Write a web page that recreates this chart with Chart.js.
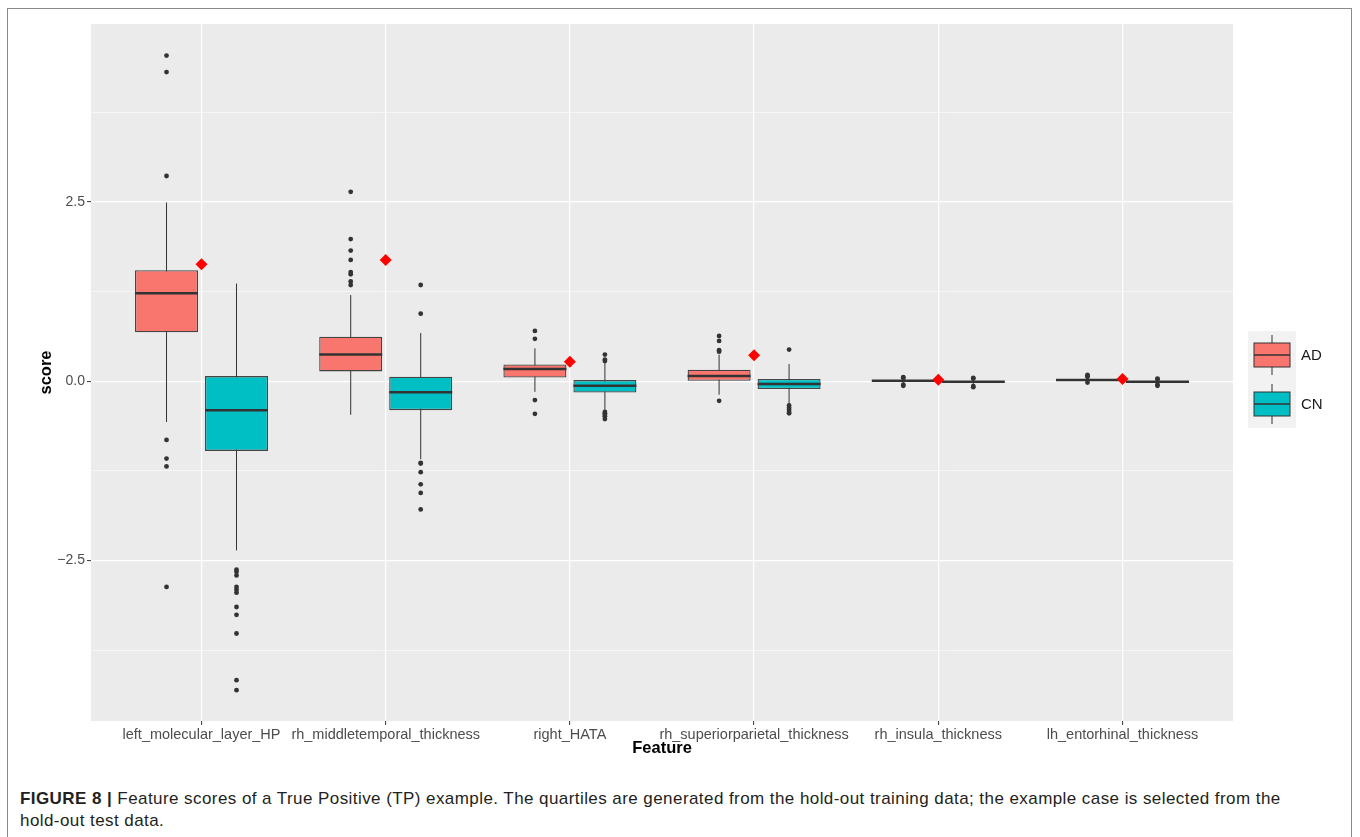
<!DOCTYPE html>
<html>
<head>
<meta charset="utf-8">
<script src="https://cdn.jsdelivr.net/npm/chart.js@4.4.1/dist/chart.umd.min.js"></script>
<style>
  body { margin: 0; background: #fff; font-family: "Liberation Sans", Arial, sans-serif; }
  #frame { position: absolute; left: 7px; top: 8px; width: 1343px; height: 850px; border: 1.5px solid #8a8a8a; }
  #wrap { position: absolute; left: 0; top: 0; width: 1360px; height: 770px; }
  #caption { position: absolute; left: 20px; top: 788px; font-size: 17px; letter-spacing: 0.43px; line-height: 22px; color: #231f20; }
  #caption b { font-weight: bold; }
</style>
</head>
<body>
<div id="frame"></div>
<div id="wrap"><canvas id="boxChart"></canvas></div>
<div id="caption"><b>FIGURE 8 |</b> Feature scores of a True Positive (TP) example. The quartiles are generated from the hold-out training data; the example case is selected from the<br>hold-out test data.</div>
<script>
// ---- data ----
const features = ['left_molecular_layer_HP', 'rh_middletemporal_thickness', 'right_HATA',
    'rh_superiorparietal_thickness', 'rh_insula_thickness', 'lh_entorhinal_thickness'];

const adLow    = [-0.57, -0.47, -0.15, -0.19, -0.025, -0.01];
const adQ1     = [0.68, 0.135, 0.05, 0.005, -0.005, 0.005];
const adMedian = [1.225, 0.37, 0.168, 0.07, 0.005, 0.014];
const adQ3     = [1.546, 0.62, 0.233, 0.158, 0.012, 0.022];
const adHigh   = [2.49, 1.20, 0.457, 0.37, 0.035, 0.04];
const adOutliers = [
    [4.54, 4.31, 2.86, -0.82, -1.08, -1.19, -2.87],
    [2.64, 1.98, 1.82, 1.69, 1.52, 1.49, 1.39, 1.34],
    [0.70, 0.59, -0.265, -0.456],
    [0.63, 0.56, 0.43, 0.41, -0.275],
    [0.055, 0.045, -0.05, -0.065],
    [0.085, 0.07, 0.06, -0.02]
];

const cnLow    = [-2.36, -1.09, -0.40, -0.31, -0.045, -0.04];
const cnQ1     = [-0.973, -0.405, -0.16, -0.11, -0.02, -0.018];
const cnMedian = [-0.405, -0.154, -0.065, -0.04, -0.01, -0.01];
const cnQ3     = [0.07, 0.06, 0.014, 0.03, 0.0, -0.002];
const cnHigh   = [1.36, 0.67, 0.25, 0.237, 0.025, 0.02];
const cnOutliers = [
    [-2.63, -2.66, -2.71, -2.87, -2.91, -2.95, -3.15, -3.26, -3.52, -4.17, -4.31],
    [1.34, 0.94, -1.14, -1.15, -1.27, -1.44, -1.56, -1.79],
    [0.37, 0.30, 0.28, -0.43, -0.45, -0.47, -0.49, -0.53],
    [0.44, -0.34, -0.37, -0.40, -0.43, -0.45],
    [0.045, 0.035, -0.07, -0.085],
    [0.035, 0.025, -0.05, -0.065]
];

const exampleScores = [1.63, 1.69, 0.27, 0.36, 0.02, 0.03];

const yTicks = [-3.75, -2.5, -1.25, 0, 1.25, 2.5, 3.75];
const yMajor = [-2.5, 0, 2.5];

const AD_COLOR = '#F8766D';
const CN_COLOR = '#00BFC4';
const DODGE = 0.19;

const boxes = [
    { label: 'AD', low: adLow, q1: adQ1, med: adMedian, q3: adQ3, high: adHigh, color: AD_COLOR },
    { label: 'CN', low: cnLow, q1: cnQ1, med: cnMedian, q3: cnQ3, high: cnHigh, color: CN_COLOR }
];

function outlierPoints(list, shift) {
    const pts = [];
    list.forEach((vals, i) => vals.forEach(v => pts.push({ x: i + 1 + shift, y: v })));
    return pts;
}

// ---- plugins ----
const panelBg = {
    id: 'panelBg',
    beforeDraw(chart) {
        const { ctx, chartArea: a } = chart;
        ctx.save();
        ctx.fillStyle = '#EBEBEB';
        ctx.fillRect(a.left, a.top, a.right - a.left, a.bottom - a.top);
        ctx.restore();
    }
};

const boxParts = {
    id: 'boxParts',
    beforeDatasetsDraw(chart) {
        const { ctx, scales: { y } } = chart;
        ctx.save();
        ctx.strokeStyle = '#333333';
        ctx.lineWidth = 1;
        boxes.forEach((b, d) => {
            chart.getDatasetMeta(d).data.forEach((bar, i) => {
                ctx.beginPath();
                ctx.moveTo(bar.x, y.getPixelForValue(b.low[i]));
                ctx.lineTo(bar.x, y.getPixelForValue(b.high[i]));
                ctx.stroke();
            });
        });
        ctx.restore();
    },
    afterDatasetDraw(chart, args) {
        if (args.index > 1) return;
        const { ctx, scales: { y } } = chart;
        const b = boxes[args.index];
        ctx.save();
        ctx.strokeStyle = '#333333';
        ctx.lineWidth = 2.5;
        args.meta.data.forEach((bar, i) => {
            const py = y.getPixelForValue(b.med[i]);
            ctx.beginPath();
            ctx.moveTo(bar.x - bar.width / 2, py);
            ctx.lineTo(bar.x + bar.width / 2, py);
            ctx.stroke();
        });
        ctx.restore();
    }
};

const ggLegend = {
    id: 'ggLegend',
    afterDraw(chart) {
        const { ctx } = chart;
        ctx.save();
        ctx.fillStyle = '#F2F2F2';
        ctx.fillRect(1248, 331, 48, 97);
        boxes.forEach((b, k) => {
            const top = 331 + k * 49;
            ctx.strokeStyle = '#333333';
            ctx.lineWidth = 1;
            ctx.beginPath();
            ctx.moveTo(1272, top + 4);
            ctx.lineTo(1272, top + 44);
            ctx.stroke();
            ctx.fillStyle = b.color;
            ctx.fillRect(1254, top + 12, 36, 24);
            ctx.strokeRect(1254, top + 12, 36, 24);
            ctx.lineWidth = 1.5;
            ctx.beginPath();
            ctx.moveTo(1254, top + 24);
            ctx.lineTo(1290, top + 24);
            ctx.stroke();
            ctx.fillStyle = '#1a1a1a';
            ctx.font = '15px "Liberation Sans", Arial, sans-serif';
            ctx.textBaseline = 'middle';
            ctx.fillText(b.label, 1301, top + 25);
        });
        ctx.restore();
    }
};

// ---- chart ----
const datasets = [];
boxes.forEach((b, d) => {
    datasets.push({
        type: 'bar',
        label: b.label,
        data: features.map((f, i) => ({ x: i + 1, y: [b.q1[i], b.q3[i]] })),
        backgroundColor: b.color,
        borderColor: '#444444',
        borderWidth: 1.3,
        borderSkipped: false,
        categoryPercentage: 0.76,
        barPercentage: 0.9,
        order: 3
    });
});
datasets.push({
    type: 'scatter', label: 'AD outliers',
    data: outlierPoints(adOutliers, -DODGE),
    pointRadius: 2.4, pointBackgroundColor: '#333333', pointBorderWidth: 0, order: 2
});
datasets.push({
    type: 'scatter', label: 'CN outliers',
    data: outlierPoints(cnOutliers, DODGE),
    pointRadius: 2.4, pointBackgroundColor: '#333333', pointBorderWidth: 0, order: 2
});
datasets.push({
    type: 'scatter', label: 'example',
    data: exampleScores.map((v, i) => ({ x: i + 1, y: v })),
    pointStyle: 'rectRot', pointRadius: 6, pointBackgroundColor: '#FF0000', pointBorderWidth: 0, order: 1
});

new Chart(document.getElementById('boxChart'), {
    data: { datasets },
    plugins: [panelBg, boxParts, ggLegend],
    options: {
        responsive: true,
        maintainAspectRatio: false,
        animation: false,
        layout: { padding: { left: 0, top: 24, right: 127, bottom: 0 } },
        plugins: { legend: { display: false }, tooltip: { enabled: false } },
        scales: {
            x: {
                type: 'linear',
                min: 0.4,
                max: 6.6,
                offset: false,
                afterBuildTicks: (scale) => { scale.ticks = features.map((f, i) => ({ value: i + 1 })); },
                afterFit: (scale) => { scale.height = 49; },
                ticks: {
                    autoSkip: false,
                    maxRotation: 0,
                    padding: 1,
                    color: '#4d4d4d',
                    font: { family: '"Liberation Sans", Arial, sans-serif', size: 14.5 },
                    callback: (v) => features[v - 1] || ''
                },
                grid: { offset: false, color: '#FFFFFF', lineWidth: 1.2, tickColor: '#333333', tickLength: 4, tickWidth: 1 },
                border: { display: false },
                title: {
                    display: true, text: 'Feature', color: '#000',
                    font: { family: '"Liberation Sans", Arial, sans-serif', size: 16.5, weight: 'bold' },
                    padding: { top: 0, bottom: 12 }
                }
            },
            y: {
                min: -4.74,
                max: 4.98,
                afterBuildTicks: (scale) => { scale.ticks = yTicks.map(v => ({ value: v })); },
                afterFit: (scale) => { scale.width = 91; },
                ticks: {
                    padding: 2,
                    color: '#4d4d4d',
                    font: { family: '"Liberation Sans", Arial, sans-serif', size: 14 },
                    callback: (v) => yMajor.includes(v) ? (v < 0 ? '\u2212' + Math.abs(v).toFixed(1) : v.toFixed(1)) : ''
                },
                grid: {
                    color: '#FFFFFF',
                    lineWidth: (c) => (c.tick && yMajor.includes(c.tick.value)) ? 1.2 : 0.6,
                    tickColor: (c) => (c.tick && yMajor.includes(c.tick.value)) ? '#333333' : 'rgba(0,0,0,0)',
                    tickLength: 4,
                    tickWidth: 1
                },
                border: { display: false },
                title: {
                    display: true, text: 'score', color: '#000',
                    font: { family: '"Liberation Sans", Arial, sans-serif', size: 16.5, weight: 'bold' },
                    padding: { top: 37, bottom: 0 }
                }
            }
        }
    }
});
</script>
</body>
</html>
